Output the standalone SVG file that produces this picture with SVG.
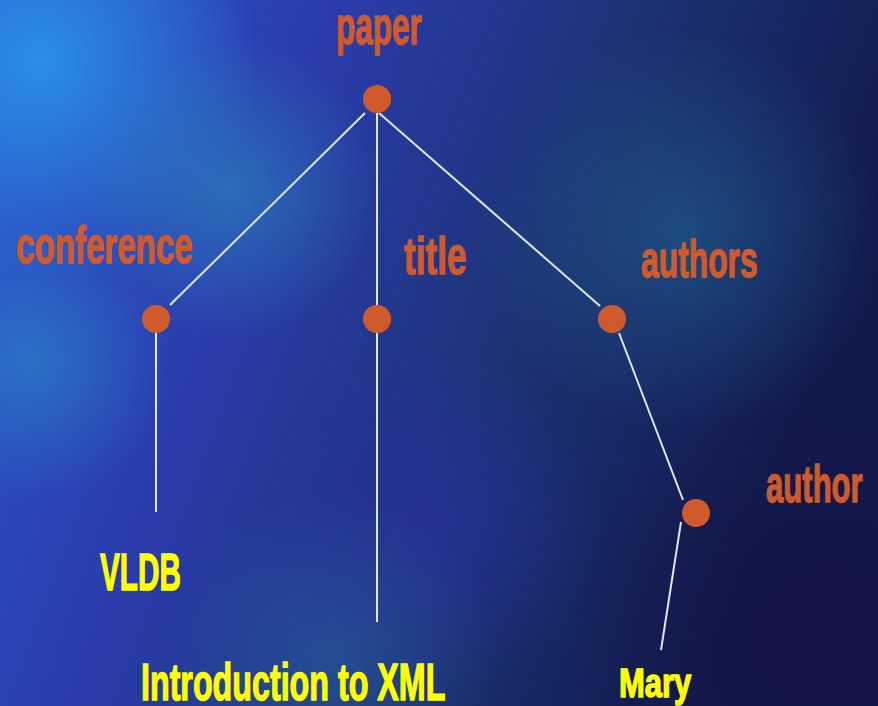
<svg xmlns="http://www.w3.org/2000/svg" width="878" height="706" viewBox="0 0 878 706">
  <defs>
    <linearGradient id="bg" x1="0" y1="0" x2="1" y2="0.3">
      <stop offset="0" stop-color="#2a58cc"/>
      <stop offset="0.35" stop-color="#2a3cac"/>
      <stop offset="0.65" stop-color="#1d3478"/>
      <stop offset="1" stop-color="#121a4c"/>
    </linearGradient>
    <radialGradient id="g1" cx="40" cy="60" r="220" gradientUnits="userSpaceOnUse">
      <stop offset="0" stop-color="#2a98ec" stop-opacity="0.85"/>
      <stop offset="1" stop-color="#2a98ec" stop-opacity="0"/>
    </radialGradient>
    <radialGradient id="g2" cx="230" cy="190" r="150" gradientUnits="userSpaceOnUse">
      <stop offset="0" stop-color="#2a8cc0" stop-opacity="0.6"/>
      <stop offset="1" stop-color="#2a8cc0" stop-opacity="0"/>
    </radialGradient>
    <radialGradient id="g3" cx="30" cy="360" r="140" gradientUnits="userSpaceOnUse">
      <stop offset="0" stop-color="#2a8ad0" stop-opacity="0.6"/>
      <stop offset="1" stop-color="#2a8ad0" stop-opacity="0"/>
    </radialGradient>
    <radialGradient id="g4" cx="680" cy="230" r="200" gradientUnits="userSpaceOnUse">
      <stop offset="0" stop-color="#1f5a88" stop-opacity="0.7"/>
      <stop offset="1" stop-color="#1f5a88" stop-opacity="0"/>
    </radialGradient>
    <radialGradient id="g5" cx="420" cy="520" r="180" gradientUnits="userSpaceOnUse">
      <stop offset="0" stop-color="#2a2f9e" stop-opacity="0.7"/>
      <stop offset="1" stop-color="#2a2f9e" stop-opacity="0"/>
    </radialGradient>
    <radialGradient id="g6" cx="830" cy="640" r="260" gradientUnits="userSpaceOnUse">
      <stop offset="0" stop-color="#141545" stop-opacity="0.9"/>
      <stop offset="1" stop-color="#141545" stop-opacity="0"/>
    </radialGradient>
    <radialGradient id="g7" cx="330" cy="660" r="170" gradientUnits="userSpaceOnUse">
      <stop offset="0" stop-color="#2a6aa8" stop-opacity="0.45"/>
      <stop offset="1" stop-color="#2a6aa8" stop-opacity="0"/>
    </radialGradient>
    <style>
      .lbl { font-family: "Liberation Sans", Arial, sans-serif; font-weight: bold; font-size: 52px; fill: #cf5a2c; stroke: #cf5a2c; stroke-width: 1.4px; }
      .val { font-family: "Liberation Sans", Arial, sans-serif; font-weight: bold; font-size: 52px; fill: #ffff00; stroke: #ffff00; stroke-width: 1.4px; }
      .small { font-size: 40px; }
      .dot { fill: #cf5a2c; }
      .edge { stroke: #dfe8f7; stroke-width: 2; fill: none; }
    </style>
  </defs>
  <rect width="878" height="706" fill="url(#bg)"/>
  <rect width="878" height="706" fill="url(#g1)"/>
  <rect width="878" height="706" fill="url(#g2)"/>
  <rect width="878" height="706" fill="url(#g3)"/>
  <rect width="878" height="706" fill="url(#g4)"/>
  <rect width="878" height="706" fill="url(#g5)"/>
  <rect width="878" height="706" fill="url(#g6)"/>
  <rect width="878" height="706" fill="url(#g7)"/>

  <g id="connectors">
    <line class="edge" x1="365" y1="113" x2="170" y2="305"/>
    <line class="edge" x1="377" y1="113" x2="377" y2="305"/>
    <line class="edge" x1="379" y1="113" x2="600" y2="306"/>
    <line class="edge" x1="156" y1="333" x2="156" y2="512"/>
    <line class="edge" x1="377" y1="333" x2="377" y2="622"/>
    <line class="edge" x1="619" y1="333" x2="683" y2="500"/>
    <line class="edge" x1="681" y1="522" x2="661" y2="650"/>
  </g>

  <g id="node-paper">
    <circle class="dot" cx="377" cy="99" r="14"/>
    <text class="lbl" transform="translate(336,44) scale(0.605,1)">paper</text>
  </g>
  <g id="node-conference">
    <circle class="dot" cx="156" cy="319" r="14"/>
    <text class="lbl" transform="translate(16,263) scale(0.637,1)">conference</text>
  </g>
  <g id="node-title">
    <circle class="dot" cx="377" cy="319" r="14"/>
    <text class="lbl" transform="translate(404,274) scale(0.675,1)">title</text>
  </g>
  <g id="node-authors">
    <circle class="dot" cx="612" cy="319" r="14"/>
    <text class="lbl" transform="translate(641,277) scale(0.612,1)">authors</text>
  </g>
  <g id="node-author">
    <circle class="dot" cx="696" cy="513" r="14"/>
    <text class="lbl" transform="translate(766,502) scale(0.598,1)">author</text>
  </g>
  <g id="value-vldb">
    <text class="val" transform="translate(100,590) scale(0.572,1)">VLDB</text>
  </g>
  <g id="value-title">
    <text class="val" transform="translate(141,700) scale(0.62,1)">Introduction to XML</text>
  </g>
  <g id="value-mary">
    <text class="val small" transform="translate(619,697) scale(0.775,1)">Mary</text>
  </g>
</svg>
